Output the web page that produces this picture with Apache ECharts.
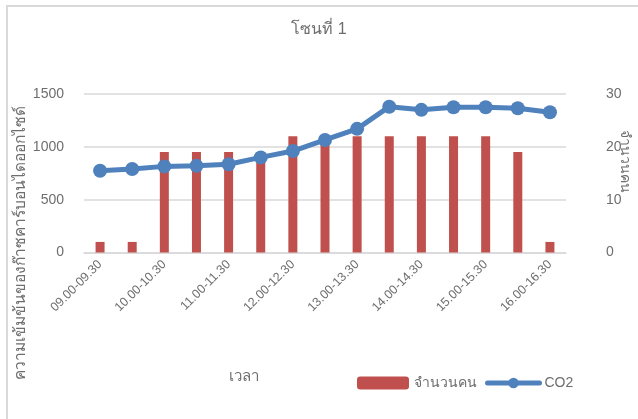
<!DOCTYPE html>
<html>
<head>
<meta charset="utf-8">
<script src="https://cdn.jsdelivr.net/npm/echarts@6/dist/echarts.min.js"></script>
<style>html,body{margin:0;padding:0;background:#fff}#c{width:638px;height:419px}</style>
</head>
<body>
<div id="c"></div>
<script>
const categories = ['09.00-09.30','09.30-10.00','10.00-10.30','10.30-11.00','11.00-11.30','11.30-12.00','12.00-12.30','12.30-13.00','13.00-13.30','13.30-14.00','14.00-14.30','14.30-15.00','15.00-15.30','15.30-16.00','16.00-16.30'];
const people = [2,2,19,19,19,19,22,22,22,22,22,22,22,19,2];
const co2 = [774,790,815,820,835,900,960,1065,1170,1380,1350,1375,1375,1365,1327];
const leftTicks = {min:0, max:1500, interval:500};
const rightTicks = {min:0, max:30, interval:10};

const FONT = '"Liberation Sans", "Noto Sans", "DejaVu Sans", sans-serif';
const GRAY = '#6e6e6e';
const chart = echarts.init(document.getElementById('c'));
chart.setOption({
  backgroundColor: '#fff',
  animation: false,
  textStyle: {fontFamily: FONT},
  title: {text: 'โซนที่ 1', left: 'center', top: 17, textStyle: {color: GRAY, fontSize: 16, fontWeight: 'normal', fontFamily: FONT}},
  grid: {left: 84, right: 72, top: 94, bottom: 166.5, containLabel: false},
  legend: {
    left: 352, top: 371, itemWidth: 52, itemHeight: 13, itemGap: 8,
    textStyle: {color: GRAY, fontSize: 14, fontFamily: FONT},
    lineStyle: {width: 5, cap: 'round'},
    data: ['จำนวนคน', 'CO2']
  },
  graphic: [
    {type: 'rect', shape: {x: 7, y: 6, width: 700, height: 500}, style: {fill: 'none', stroke: '#d9d9d9', lineWidth: 2}, silent: true},
    {type: 'text', left: 229, top: 369, style: {text: 'เวลา', fill: GRAY, fontSize: 15, fontFamily: FONT}},
    {type: 'text', x: 21, y: 243, rotation: Math.PI/2, style: {text: 'ความเข้มข้นของก๊าซคาร์บอนไดออกไซด์', fill: GRAY, fontSize: 15.5, fontFamily: FONT, align: 'center', verticalAlign: 'middle'}},
    {type: 'text', x: 625, y: 161, rotation: -Math.PI/2, style: {text: 'จำนวนคน', fill: GRAY, fontSize: 14, fontFamily: FONT, align: 'center', verticalAlign: 'middle'}}
  ],
  xAxis: {
    type: 'category', data: categories, boundaryGap: true,
    axisLine: {lineStyle: {color: '#d9d9d9', width: 1.5}},
    axisTick: {show: false},
    axisLabel: {rotate: 45, interval: 1, color: GRAY, fontSize: 12.5, fontFamily: FONT, margin: 10}
  },
  yAxis: [
    {type: 'value', min: leftTicks.min, max: leftTicks.max, interval: leftTicks.interval,
     axisLine: {show: false}, axisTick: {show: false},
     axisLabel: {color: GRAY, fontSize: 14, fontFamily: FONT, margin: 20, formatter: v => String(v)},
     splitLine: {lineStyle: {color: '#d9d9d9', width: 1.5}}},
    {type: 'value', min: rightTicks.min, max: rightTicks.max, interval: rightTicks.interval,
     axisLine: {show: false}, axisTick: {show: false},
     axisLabel: {color: GRAY, fontSize: 14, fontFamily: FONT, margin: 40, formatter: v => String(v)},
     splitLine: {show: false}}
  ],
  series: [
    {name: 'จำนวนคน', type: 'bar', yAxisIndex: 1, data: people, barWidth: 9,
     itemStyle: {color: '#C0504D'}, z: 2},
    {name: 'CO2', type: 'line', yAxisIndex: 0, data: co2, symbol: 'circle', symbolSize: 14,
     lineStyle: {color: '#4F81BD', width: 5}, itemStyle: {color: '#4F81BD'}, z: 3}
  ]
});
</script>
</body>
</html>
